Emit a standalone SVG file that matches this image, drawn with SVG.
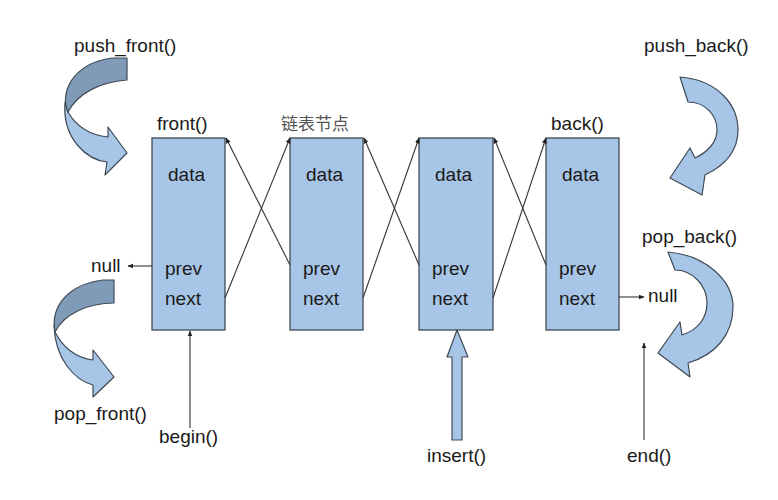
<svg xmlns="http://www.w3.org/2000/svg" width="778" height="500" viewBox="0 0 778 500">
<style>
.box{fill:#a7c5e6;stroke:#3f4a55;stroke-width:1.3}
.t{font-family:"Liberation Sans",Arial,sans-serif;font-size:19px;fill:#1a1a1a}
.cn{font-family:"Noto Sans CJK SC",sans-serif;font-size:17px;fill:#555}
.ln{stroke:#333;stroke-width:1.1;fill:none;marker-end:url(#ah)}
.lt{fill:#a7c5e6;stroke:#3f4a55;stroke-width:1.2;stroke-linejoin:round}
.dk{fill:#7f9bb8;stroke:#3f4a55;stroke-width:1.2;stroke-linejoin:round}
</style>
<defs>
<marker id="ah" viewBox="0 0 10 10" refX="9" refY="5" markerWidth="6" markerHeight="6" orient="auto" markerUnits="userSpaceOnUse">
<path d="M0,1 L10,5 L0,9 Z" fill="#222"/>
</marker>
</defs>
<rect width="778" height="500" fill="#fff"/>

<g id="node1">
<rect class="box" x="152" y="138" width="73" height="192"/>
<text class="t" x="168" y="181">data</text>
<text class="t" x="165" y="275">prev</text>
<text class="t" x="165" y="305">next</text>
</g>
<g id="node2">
<rect class="box" x="290" y="138" width="73" height="192"/>
<text class="t" x="306" y="181">data</text>
<text class="t" x="303" y="275">prev</text>
<text class="t" x="303" y="305">next</text>
</g>
<g id="node3">
<rect class="box" x="419" y="138" width="74" height="192"/>
<text class="t" x="435" y="181">data</text>
<text class="t" x="432" y="275">prev</text>
<text class="t" x="432" y="305">next</text>
</g>
<g id="node4">
<rect class="box" x="546" y="138" width="73" height="192"/>
<text class="t" x="562" y="181">data</text>
<text class="t" x="559" y="275">prev</text>
<text class="t" x="559" y="305">next</text>
</g>

<g id="labels">
<text class="t" x="157" y="130">front()</text>
<text class="cn" x="281" y="130">链表节点</text>
<text class="t" x="551" y="130">back()</text>
<text class="t" x="74" y="52">push_front()</text>
<text class="t" x="644" y="52">push_back()</text>
<text class="t" x="642" y="243">pop_back()</text>
<text class="t" x="54" y="420">pop_front()</text>
<text class="t" x="91" y="272">null</text>
<text class="t" x="648" y="302">null</text>
<text class="t" x="159" y="443">begin()</text>
<text class="t" x="627" y="462">end()</text>
<text class="t" x="427" y="462">insert()</text>
</g>

<g id="connectors">
<line class="ln" x1="225" y1="298" x2="290" y2="138"/>
<line class="ln" x1="290" y1="265" x2="226" y2="138"/>
<line class="ln" x1="363" y1="298" x2="419" y2="138"/>
<line class="ln" x1="419" y1="265" x2="364" y2="138"/>
<line class="ln" x1="493" y1="298" x2="546" y2="138"/>
<line class="ln" x1="546" y1="265" x2="494" y2="138"/>
<line class="ln" x1="152" y1="266" x2="128" y2="266"/>
<line class="ln" x1="619" y1="297" x2="644" y2="297"/>
<line class="ln" x1="190" y1="428" x2="190" y2="331"/>
<line class="ln" x1="644" y1="440" x2="644" y2="343"/>
<path class="lt" d="M452,440 L452,357 L447,357 L457,330 L468,357 L462,357 L462,440 Z"/>
</g>

<g id="push_front_arrow">
<path class="lt" d="M65,102 C62,140 88,160 107,162 L105,175 L127,153 L108,127 L108,137 C90,135 76,126 68,112 Z"/>
<path class="dk" d="M112,58 L127,58 L127,80 C100,82 78,93 68,112 C60,95 70,64 112,58 Z"/>
</g>
<g id="pop_front_arrow">
<path class="lt" d="M54,325 C55,360 75,380 93,385 L93,397 L114,377 L93,350 L93,360 C75,358 62,346 55,332 Z"/>
<path class="dk" d="M103,280 L114,280 L114,303 C88,303 64,314 55,332 C50,305 70,284 103,280 Z"/>
</g>
<g id="push_back_arrow">
<path class="lt" d="M680,77 C718,80 738,105 738,130 C738,150 726,165 705,175 L702,195 L670,178 L690,148 L695,158 C708,152 717,142 717,130 C717,115 705,102 688,102 Z"/>
</g>
<g id="pop_back_arrow">
<path class="lt" d="M668,252 C705,255 733,280 733,307 C733,335 715,355 688,363 L690,377 L658,353 L680,322 L682,335 C698,330 707,318 707,303 C707,285 692,270 675,270 Z"/>
</g>
</svg>
